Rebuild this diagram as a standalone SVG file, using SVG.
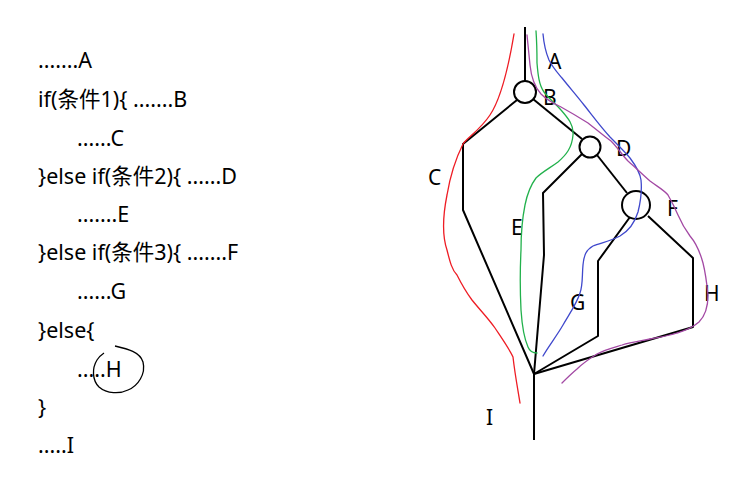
<svg xmlns="http://www.w3.org/2000/svg" width="751" height="478" viewBox="0 0 751 478">
<style>
.code{font-family:"Noto Sans","Noto Sans CJK SC",sans-serif;font-size:21.5px;fill:#000}
.lbl{font-family:"Noto Sans","Liberation Sans",sans-serif;font-size:21px;fill:#000}
.edge{fill:none;stroke:#000;stroke-width:2;stroke-linejoin:round}
.node{fill:#fff;stroke:#000;stroke-width:2}
.path{fill:none;stroke-width:1.3;stroke-linecap:round;stroke-linejoin:round}
</style>
<rect width="751" height="478" fill="#fff"/>
<g id="code">
<text class="code" x="38" y="68">.......A</text>
<text class="code" x="38" y="107">if(条件1){ .......B</text>
<text class="code" x="77" y="146">......C</text>
<text class="code" x="38" y="184">}else if(条件2){ ......D</text>
<text class="code" x="77" y="222">.......E</text>
<text class="code" x="38" y="260">}else if(条件3){ .......F</text>
<text class="code" x="77" y="299">......G</text>
<text class="code" x="38" y="338">}else{</text>
<text class="code" x="77" y="377">.....H</text>
<text class="code" x="38" y="415">}</text>
<text class="code" x="38" y="453">.....I</text>
<path d="M115,346 C128,349 140,352 143,362 C146,374 138,386 128,390 C120,394 107,394 99,387 C92,380 92,368 97,360 C99,357 101,355 104,353" fill="none" stroke="#000" stroke-width="1.3"/>
</g>
<g id="connectors">
<path class="edge" d="M525,27 L525,81"/>
<path class="edge" d="M517,100 L463,144 L463,210 L534,374"/>
<path class="edge" d="M533,99 L582,139"/>
<path class="edge" d="M582,154 L543,193 L544,255 L534,374"/>
<path class="edge" d="M597,155 L627,193"/>
<path class="edge" d="M630,217 L598,261 L598,336 L534,374"/>
<path class="edge" d="M648,216 L693,258 L693,327 L534,374"/>
<path class="edge" d="M534,374 L534,440"/>
</g>
<g id="B"><circle class="node" cx="525" cy="92" r="11"/></g>
<g id="D"><circle class="node" cx="590" cy="147" r="10.5"/></g>
<g id="F"><circle class="node" cx="636" cy="205" r="14"/></g>
<g id="labels">
<text class="lbl" x="548" y="69">A</text>
<text class="lbl" x="543" y="105">B</text>
<text class="lbl" x="428" y="185">C</text>
<text class="lbl" x="616" y="156">D</text>
<text class="lbl" x="511" y="235">E</text>
<text class="lbl" x="667" y="216">F</text>
<text class="lbl" x="570" y="310">G</text>
<text class="lbl" x="704" y="301">H</text>
<text class="lbl" x="486" y="425">I</text>
</g>
<g id="flows">
<path class="path" stroke="#ee1c24" d="M514,34 C508,70 500,100 490,115 C480,130 467,138 463,144 C455,160 450,177 447,195 C443,215 442,235 447,250 C450,262 452,270 457,275 C462,285 466,292 472,300 C480,310 488,318 495,328 C503,340 510,350 513,357 C515,375 518,390 520,403"/>
<path class="path" stroke="#22b14c" d="M536,31 C537,45 537,55 537,63 C538,75 539,85 544,92 C550,100 556,104 561,110 C568,118 574,125 573,135 C572,148 566,155 558,162 C550,168 542,172 536,178 C530,186 527,195 525,205 C522,220 521,235 521,250 C520,270 520,290 521,310 C522,325 524,338 528,347 C530,352 533,353 537,353"/>
<path class="path" stroke="#3f48cc" d="M543,34 C544,45 546,53 549,60 C553,68 557,72 562,78 C570,88 577,96 584,105 C592,115 600,126 610,137 C618,145 625,152 630,158 C636,166 640,172 641,180 C642,190 641,200 638,212 C635,222 630,230 620,236 C611,241 600,243 593,246 C586,250 584,255 583,265 C582,275 583,285 580,293 C577,303 570,313 563,325 C556,337 548,347 543,356"/>
<path class="path" stroke="#a349a4" d="M527,35 C528,45 529,55 530,65 C531,75 533,85 541,94 C548,101 555,104 561,107 C570,112 580,118 588,123 C597,130 604,136 611,141 C618,148 622,155 628,161 C636,168 643,175 650,181 C658,187 664,190 668,195 C672,202 675,208 678,215 C681,222 684,228 690,236 C696,243 700,252 703,263 C706,275 707,285 708,295 C708,305 706,315 699,322 C692,328 684,331 677,333 C668,336 660,337 650,339 C640,341 631,342 622,345 C612,348 604,350 597,354 C589,359 583,363 577,369 C571,374 566,379 562,383"/>
</g>
</svg>
